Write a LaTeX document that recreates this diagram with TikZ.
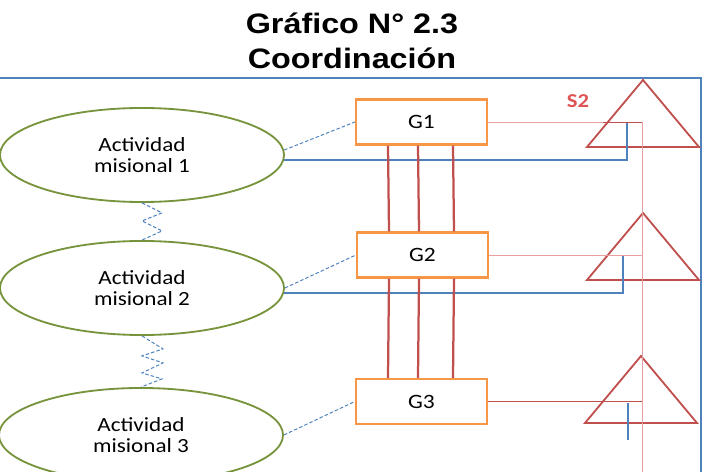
\documentclass[tikz,border=0pt]{standalone}
\usepackage{fontspec}
\usepackage{tikz}
\usetikzlibrary{shapes,calc}
\newfontfamily\titlefont[FakeStretch=1.15]{Liberation Sans}
\newfontfamily\boxfont[FakeStretch=1.15]{Carlito}
\definecolor{frameblue}{RGB}{79,129,189}
\definecolor{ellgreen}{RGB}{119,147,60}
\definecolor{boxorange}{RGB}{247,150,70}
\definecolor{linkred}{RGB}{192,80,77}
\definecolor{railpink}{RGB}{232,160,160}
\definecolor{s2red}{RGB}{222,84,84}
\tikzstyle{mision}=[ellipse, draw=ellgreen, line width=1.3pt, minimum width=7.1cm, minimum height=2.35cm,
        inner sep=0pt, align=center, font=\boxfont\fontsize{14.3}{14.5}\selectfont]
\tikzstyle{gestor}=[rectangle, draw=boxorange, line width=1.6pt, minimum width=3.275cm, minimum height=1.125cm,
        inner sep=0pt, font=\boxfont\fontsize{14.5}{14.5}\selectfont]
\tikzstyle{bluelink}=[draw=frameblue, line width=1pt]
\tikzstyle{dashlink}=[draw=frameblue, line width=0.7pt, dash pattern=on 2.5pt off 1.5pt]
\tikzstyle{redlink}=[draw=linkred, line width=1.6pt]
\tikzstyle{railink}=[draw=railpink, line width=0.5pt]
\tikzstyle{tri}=[draw=linkred, line width=1.3pt]

\begin{document}
\begin{tikzpicture}[x=0.025cm, y=-0.025cm]
	\useasboundingbox (0,0) rectangle (704,472);

	% title and frame
	\node (titulo) at (352,41) [align=center, font=\titlefont\bfseries\fontsize{20}{25}\selectfont]
        {Gráfico N° 2.3\\Coordinación};
	\draw[draw=frameblue, line width=1.1pt] (-2,78) -- (701,78) -- (701,474);

	% activities
	\node (Mision1) at (142,155) [mision] {Actividad\\misional 1};
	\node (Mision2) at (142,288) [mision] {Actividad\\misional 2};
	\node (Mision3) at (141,435) [mision] {Actividad\\misional 3};

	% groups
	\node (G1) at (421.5,122) [gestor] {G1};
	\node (G2) at (422.5,255) [gestor] {G2};
	\node (G3) at (421.5,401.5) [gestor] {G3};

	\node (S2) at (578,101) [font=\boxfont\bfseries\fontsize{14}{14}\selectfont, text=s2red] {S2};

	% triangles
	\foreach \x/\y in {643/80, 643/213, 641/356}
		\draw[tri] (\x,\y) -- ++(56,67) -- ++(-112,0) -- cycle;

	\coordinate (RailTop) at (642,122);
	\coordinate (RailBot) at (642,472);
	\coordinate (Blue1) at (627,123);
	\coordinate (Blue2) at (623,255);
	\coordinate (Blue3a) at (628,403);
	\coordinate (Blue3b) at (628,440);

	% zigzags between activities
	\draw[dashlink] (Mision1.south) -- ++(20,10) -- ++(-20,8) -- ++(20,10) -- (Mision2.north);
	\draw[dashlink] (Mision2.south) -- ++(21,13) -- ++(-21,7) -- ++(21,7) -- ++(-21,10) -- ++(20,6) -- (Mision3.north);

	% activity to group
	\draw[dashlink] (Mision1.2) -- (G1.west);
	\draw[dashlink] (Mision2.east) -- (G2.west);
	\draw[dashlink] (Mision3.east) -- (G3.west);

	\draw[bluelink] (Mision1.-2.5) -| (Blue1);
	\draw[bluelink] (Mision2.-2) -| (Blue2);
	\draw[bluelink] (Blue3a) -- (Blue3b);

	% links between groups
	\foreach \dx in {-33.5,-3.5,31.5} {
		\draw[redlink] ([xshift=\dx*0.025cm]G1.south) -- ([xshift=\dx*0.025cm]G2.north);
		\draw[redlink] ([xshift=\dx*0.025cm]G2.south) -- ([xshift=\dx*0.025cm]G3.north);
	}

	% rail
	\draw[railink] (RailTop) -- (RailBot);
	\draw[railink] (G1.east) -- (G1.east -| RailTop);
	\draw[draw=linkred, line width=0.6pt] (603,122) -- (G1.east -| RailTop);
	\draw[railink] (G2.east) -- (G2.east -| RailTop);
	\draw[draw=linkred, line width=1.1pt] (G3.east) -- (G3.east -| RailTop);
\end{tikzpicture}
\end{document}
